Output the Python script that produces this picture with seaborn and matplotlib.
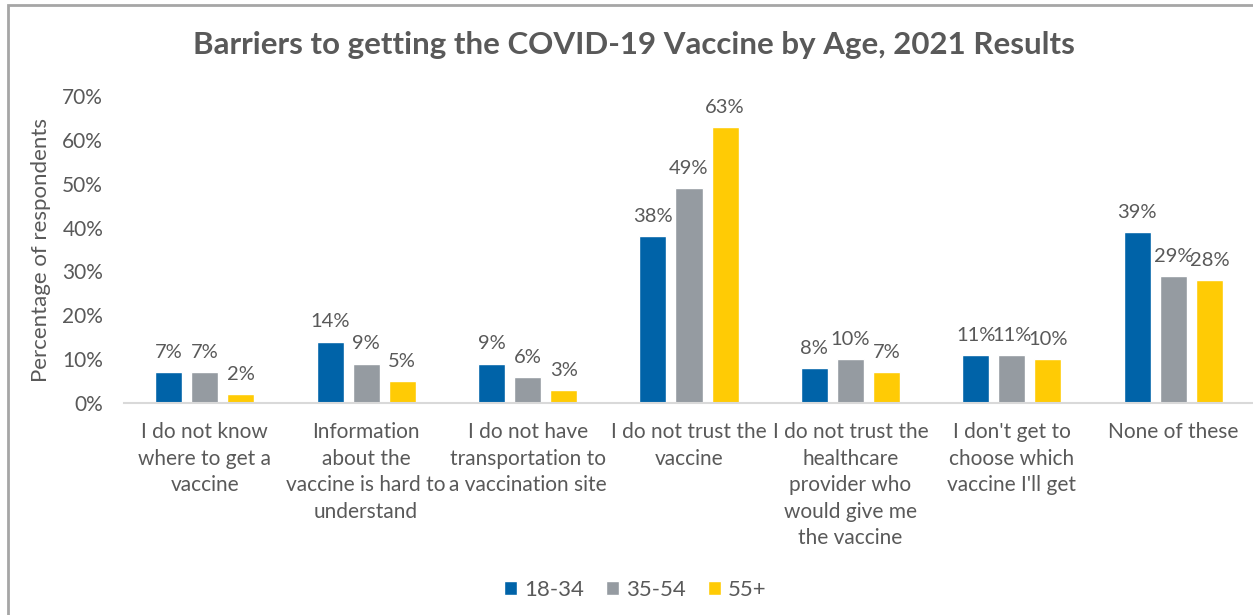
import matplotlib
matplotlib.use("Agg")
import matplotlib.pyplot as plt
from matplotlib.patches import Rectangle
import pandas as pd
import seaborn as sns

# Survey answers (category labels wrapped as displayed under the axis)
categories = [
    "I do not know\nwhere to get a\nvaccine",
    "Information\nabout the\nvaccine is hard to\nunderstand",
    "I do not have\ntransportation to\na vaccination site",
    "I do not trust the\nvaccine",
    "I do not trust the\nhealthcare\nprovider who\nwould give me\nthe vaccine",
    "I don't get to\nchoose which\nvaccine I'll get",
    "None of these",
]
age_groups = ["18-34", "35-54", "55+"]
values_18_34 = [0.07, 0.14, 0.09, 0.38, 0.08, 0.11, 0.39]
values_35_54 = [0.07, 0.09, 0.06, 0.49, 0.10, 0.11, 0.29]
values_55_plus = [0.02, 0.05, 0.03, 0.63, 0.07, 0.10, 0.28]
y_ticks = [0.0, 0.1, 0.2, 0.3, 0.4, 0.5, 0.6, 0.7]

colors = ["#0063A8", "#959BA1", "#FFCB05"]
text_color = "#595959"

df = pd.DataFrame({
    "category": categories * 3,
    "age": [age_groups[0]] * 7 + [age_groups[1]] * 7 + [age_groups[2]] * 7,
    "value": values_18_34 + values_35_54 + values_55_plus,
})

sns.set_theme(style="white")
plt.rcParams["font.family"] = ["Lato", "DejaVu Sans"]

fig = plt.figure(figsize=(12.53, 6.15), dpi=100)
ax = fig.add_axes([124 / 1253, 1 - 403 / 615, 1130 / 1253, (403 - 96) / 615])

sns.barplot(
    data=df, x="category", y="value", hue="age",
    order=categories, hue_order=age_groups, palette=colors,
    width=0.67, gap=0.25, saturation=1, ax=ax, legend=True,
)

for cont in ax.containers:
    ax.bar_label(cont, fmt="{:.0%}", padding=8, fontsize=14.5, color=text_color)

ax.set_ylim(0, 0.70)
ax.set_yticks(y_ticks)
ax.set_yticklabels([f"{t:.0%}" for t in y_ticks])
ax.set_xlim(-0.5, len(categories) - 0.5)
ax.tick_params(axis="y", length=0, pad=15, labelsize=15, labelcolor=text_color)
ax.tick_params(axis="x", length=0, pad=14, labelsize=15, labelcolor=text_color)
for lbl in ax.get_xticklabels():
    lbl.set_linespacing(1.4)
ax.set_xlabel("")
ax.set_ylabel("Percentage of respondents", fontsize=16, color=text_color, labelpad=8)
for side in ["top", "right", "left"]:
    ax.spines[side].set_visible(False)
ax.spines["bottom"].set_color("#D9D9D9")
ax.spines["bottom"].set_linewidth(1.5)
ax.grid(False)

handles, labels = ax.get_legend_handles_labels()
ax.get_legend().remove()
fig.legend(
    handles, labels, loc="center", bbox_to_anchor=(0.507, 1 - 590 / 615),
    ncol=3, frameon=False, fontsize=16, labelcolor=text_color,
    handlelength=0.6, handleheight=0.6, handletextpad=0.3, columnspacing=1.0,
)

fig.text(0.506, 1 - 45 / 615, "Barriers to getting the COVID-19 Vaccine by Age, 2021 Results",
         ha="center", va="center", fontsize=22.5, fontweight="bold", color=text_color)

# Chart-area frame
fig.patches.append(Rectangle((8 / 1253, -0.2), 2.0, 1.2 - 5 / 615, transform=fig.transFigure,
                             fill=False, edgecolor="#A6A6A6", linewidth=2))

fig.savefig("out.png", dpi=100, facecolor="white")
